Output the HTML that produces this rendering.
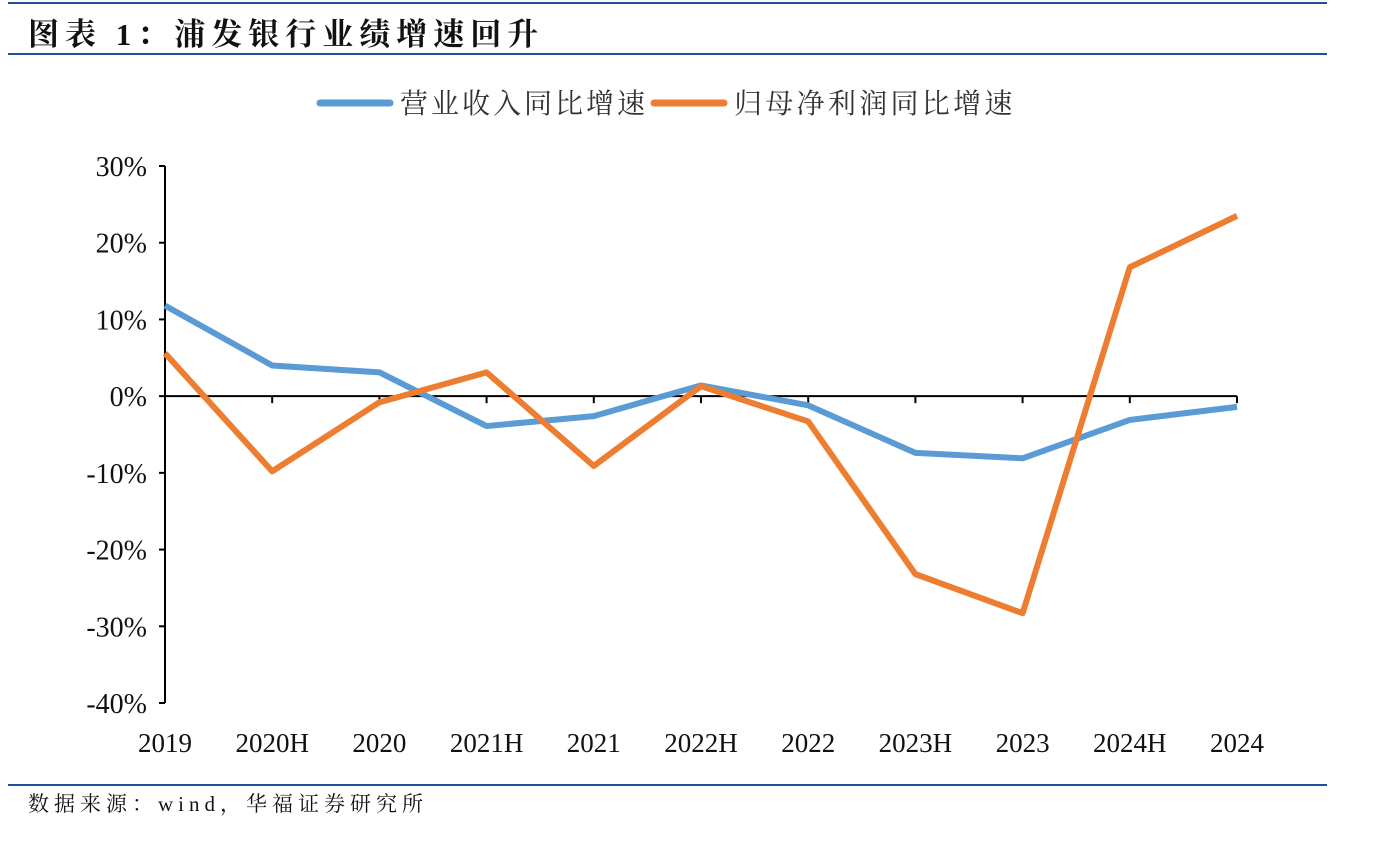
<!DOCTYPE html>
<html><head><meta charset="utf-8"><style>
html,body{margin:0;padding:0;background:#fff;}
body{width:1383px;height:851px;position:relative;overflow:hidden;font-family:"Liberation Serif","Noto Serif CJK SC",serif;}
</style></head><body>
<svg width="1383" height="851" xmlns="http://www.w3.org/2000/svg">
<line x1="8" y1="3" x2="1327" y2="3" stroke="#1f4e9a" stroke-width="2"/>
<text x="28" y="45" font-size="31" font-weight="bold" letter-spacing="6" fill="#111" font-family="Liberation Serif,Noto Serif CJK SC,serif">图表 1：浦发银行业绩增速回升</text>
<line x1="8" y1="54" x2="1327" y2="54" stroke="#1f4e9a" stroke-width="2"/>
<g>
<line x1="320" y1="103" x2="390" y2="103" stroke="#5b9bd5" stroke-width="7" stroke-linecap="round"/>
<text x="400" y="113" font-size="28" letter-spacing="3" fill="#333">营业收入同比增速</text>
<line x1="654" y1="103" x2="724" y2="103" stroke="#ed7d31" stroke-width="7" stroke-linecap="round"/>
<text x="734" y="113" font-size="28" letter-spacing="3.3" fill="#333">归母净利润同比增速</text>
</g>
<g id="plot"></g>
<line x1="8" y1="785" x2="1327" y2="785" stroke="#1f4e9a" stroke-width="2"/>
<text x="28" y="811" font-size="21" letter-spacing="5" fill="#111">数据来源：wind，华福证券研究所</text>
</svg>
<script>
const categories=["2019","2020H","2020","2021H","2021","2022H","2022","2023H","2023","2024H","2024"];
const revenueGrowth=[11.8,4.0,3.1,-3.9,-2.6,1.4,-1.2,-7.4,-8.1,-3.1,-1.4];
const profitGrowth=[5.6,-9.8,-0.8,3.1,-9.1,1.3,-3.3,-23.2,-28.3,16.8,23.5];
const yTicks=[30,20,10,0,-10,-20,-30,-40];
const NS="http://www.w3.org/2000/svg";
const g=document.getElementById('plot');
const x0=165,x1=1237,yTop=166,yBot=703,vMax=30,vMin=-40;
const X=i=>x0+(x1-x0)*i/(categories.length-1);
const Y=v=>yTop+(vMax-v)/(vMax-vMin)*(yBot-yTop);
function mk(t,a){const e=document.createElementNS(NS,t);for(const k in a)e.setAttribute(k,a[k]);g.appendChild(e);return e;}
let e=mk('line',{x1:x0,y1:yTop,x2:x0,y2:yBot,stroke:'#000','stroke-width':2});


yTicks.forEach(v=>{
 const t=mk('line',{x1:x0-6,y1:Y(v),x2:x0,y2:Y(v),stroke:'#000','stroke-width':2});
 
 
 const l=mk('text',{x:x0-18,y:Y(v)+10,'font-size':28,'text-anchor':'end',fill:'#111'});
 l.textContent=v+'%';
 
 
});
e=mk('line',{x1:x0,y1:Y(0),x2:x1,y2:Y(0),stroke:'#000','stroke-width':2});


categories.forEach((c,i)=>{
 if(i>0){const t=mk('line',{x1:X(i),y1:Y(0),x2:X(i),y2:Y(0)+7,stroke:'#000','stroke-width':2});
 
 }
 const l=mk('text',{x:X(i),y:752,'font-size':27,'text-anchor':'middle',fill:'#111'});
 l.textContent=c;
 
 
});
function series(vals,color,name){
 const p=mk('polyline',{points:vals.map((v,i)=>X(i)+','+Y(v)).join(' '),fill:'none',stroke:color,'stroke-width':6,'stroke-linejoin':'round'});
 
 
}
series(revenueGrowth,'#5b9bd5','revenue-growth-line');
series(profitGrowth,'#ed7d31','profit-growth-line');
</script>
</body></html>
